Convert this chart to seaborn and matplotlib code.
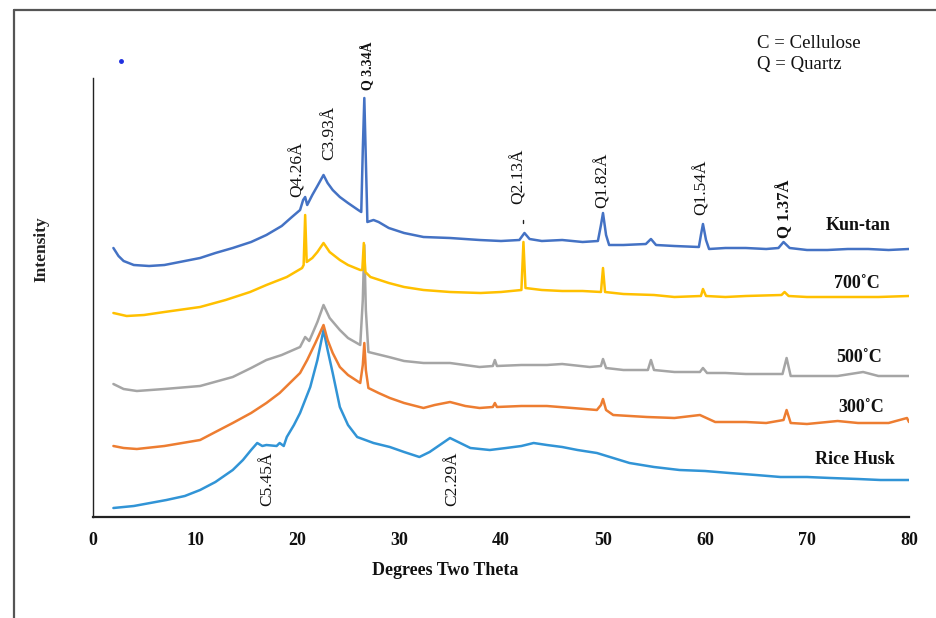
import numpy as np
import pandas as pd
import matplotlib
matplotlib.use("Agg")
import matplotlib.pyplot as plt
import seaborn as sns
from matplotlib.lines import Line2D

# ---------------- data ----------------
kuntan_x = [2.0, 2.5, 3.0, 4.0, 5.5, 7, 9, 10.5, 12, 13.7, 15.5, 17, 18.5, 19.5, 20.3, 20.6, 20.8, 21.0,
            21.5, 22.0, 22.6, 23.0, 23.5, 24.2, 25, 26.0, 26.3, 26.45, 26.6, 26.75, 26.9, 27.5, 28, 29,
            30.5, 32.4, 35, 37.9, 40, 41.8, 42.3, 42.8, 44, 46, 48, 49.5, 49.8, 50.0, 50.3, 50.6, 52,
            54.2, 54.7, 55.2, 57, 59.4, 59.6, 59.8, 60.1, 60.4, 62, 64, 66, 67.2, 67.7, 68.3, 70, 72,
            74, 76, 78, 80]
kuntan_y = [269, 261, 256, 252, 251, 252, 256, 259, 264, 269, 275, 282, 291, 300, 307, 317, 320, 312,
            322, 331, 342, 334, 327, 320, 314, 307, 305, 367, 419, 357, 295, 297, 295, 289,
            284, 280, 279, 277, 276, 277, 284, 278, 276, 277, 275, 276, 292, 304, 282, 272, 272,
            273, 278, 272, 271, 270, 282, 293, 277, 268, 269, 269, 268, 269, 275, 269, 267, 267,
            268, 268, 267, 268]

c700_x = [2.0, 3.3, 5, 7, 10.5, 13, 15.4, 17, 19, 20.5, 20.65, 20.8, 20.95, 21.5, 22.0, 22.6, 23.2,
          24.2, 25, 26.2, 26.4, 26.55, 26.7, 27.2, 29, 30.5, 32.4, 35, 38, 40, 42.0, 42.2, 42.4, 44,
          46, 48, 49.8, 50.0, 50.2, 52, 55, 57, 59.6, 59.8, 60.1, 62, 64, 67.5, 67.8, 68.2, 70, 74,
          77, 80]
c700_y = [204, 201, 202, 205, 210, 217, 225, 232, 240, 249, 252, 302, 255, 259, 265, 274, 265,
          257, 252, 247, 247, 274, 245, 240, 234, 230, 227, 225, 224, 225, 227, 275, 229, 227,
          226, 226, 225, 249, 225, 223, 222, 220, 221, 228, 221, 220, 221, 222, 225, 221, 220, 220,
          220, 221]

c500_x = [2.0, 3, 4.3, 7, 10.5, 13.7, 15.5, 17, 18.5, 20.3, 20.8, 21.2, 22, 22.6, 23.2, 24.2, 25,
          26.2, 26.45, 26.6, 26.75, 27.0, 29, 30.5, 32.4, 35, 37.9, 39.2, 39.4, 39.6, 42, 44.5, 46,
          48.7, 49.8, 50.0, 50.3, 52, 54.4, 54.7, 55.0, 57, 59.5, 59.8, 60.2, 62, 64, 66, 67.6, 68.0,
          68.4, 70, 73, 75.5, 77, 80]
c500_y = [133, 128, 126, 128, 131, 140, 149, 157, 162, 170, 180, 176, 195, 212, 199, 187, 179,
          172, 217, 272, 207, 165, 160, 156, 154, 154, 150, 151, 157, 151, 152, 152, 153,
          150, 151, 158, 149, 147, 147, 157, 147, 145, 145, 149, 144, 144, 143, 143, 143, 159,
          141, 141, 141, 145, 141, 141]

c300_x = [2.0, 3, 4.3, 7, 10.5, 12, 13.7, 15.5, 17, 18.3, 19.3, 20.3, 21.0, 21.8, 22.6, 23.0, 23.5,
          24.2, 25, 26.2, 26.45, 26.6, 26.75, 27.0, 28, 29.1, 30.5, 32.4, 33.5, 35, 36.5, 37.9, 39.2,
          39.4, 39.6, 42, 44.5, 47, 49.4, 49.8, 50.0, 50.3, 51, 54.3, 57, 59.5, 61, 64, 66, 67.7,
          68.0, 68.4, 70, 73, 75, 78, 79.8, 80]
c300_y = [71, 69, 68, 71, 77, 85, 94, 104, 114, 124, 134, 144, 157, 174, 192, 177, 164,
          150, 142, 134, 152, 174, 147, 129, 124, 119, 114, 109, 112, 115, 111, 109, 110,
          114, 110, 111, 111, 109, 107, 112, 118, 107, 102, 100, 99, 102, 95, 95, 94, 97,
          107, 94, 93, 96, 94, 94, 99, 95]

husk_x = [2.0, 4, 7.2, 9, 10.5, 12, 13.7, 14.7, 15.5, 16.1, 16.6, 17, 18, 18.3, 18.7, 19, 19.7,
          20.3, 21.3, 22.0, 22.6, 23.0, 23.5, 24.2, 25, 25.9, 27.5, 29.1, 30.5, 32.0, 33, 34, 35,
          36, 37, 38.9, 40.5, 42, 43.2, 44.5, 46, 47.5, 49.4, 51, 52.6, 55, 57.5, 60, 62.4, 65,
          67.4, 70, 72.3, 75, 77.2, 80]
husk_y = [9, 11, 17, 21, 27, 35, 47, 57, 67, 74, 71, 72, 71, 74, 71, 80, 92,
          104, 130, 157, 187, 167, 144, 110, 92, 80, 74, 70, 65, 60, 65, 72, 79,
          74, 69, 67, 69, 71, 74, 72, 70, 67, 64, 59, 54, 50, 47, 46, 44, 42,
          40, 40, 39, 38, 37, 37]

samples = ["Rice Husk", "300˚C", "500˚C", "700˚C", "Kun-tan"]
x_ticks = [0, 10, 20, 30, 40, 50, 60, 70, 80]

series = {
    "Rice Husk": (husk_x, husk_y),
    "300˚C": (c300_x, c300_y),
    "500˚C": (c500_x, c500_y),
    "700˚C": (c700_x, c700_y),
    "Kun-tan": (kuntan_x, kuntan_y),
}
df = pd.concat(
    [pd.DataFrame({"two_theta": xs, "intensity": ys, "sample": name})
     for name, (xs, ys) in series.items()],
    ignore_index=True,
)

palette = {
    "Rice Husk": "#3194d6",
    "300˚C": "#ed7d31",
    "500˚C": "#a5a5a5",
    "700˚C": "#ffc000",
    "Kun-tan": "#4472c4",
}

# ---------------- figure ----------------
sns.set_theme(style="white")
plt.rcParams["font.family"] = ["Liberation Serif", "DejaVu Serif"]

W, H = 937, 618
fig = plt.figure(figsize=(W / 100, H / 100), dpi=100)
fig.patch.set_facecolor("white")
ax = fig.add_axes([93 / W, 1 - 517 / H, 816 / W, 439 / H])
ax.set_facecolor("white")

sns.lineplot(data=df, x="two_theta", y="intensity", hue="sample", hue_order=samples,
             palette=palette, legend=False, estimator=None, sort=False, lw=1.8, ax=ax)

ax.set_xlim(0, 80)
ax.set_ylim(0, 439)
ax.set_xticks(x_ticks)
ax.set_xticklabels([str(t) for t in x_ticks], fontsize=13, fontweight="bold")
ax.set_yticks([])
ax.tick_params(axis="x", length=0, pad=11, colors="#111111")
ax.set_xlabel("")
ax.set_ylabel("")
for s in ["top", "right"]:
    ax.spines[s].set_visible(False)
ax.spines["left"].set_color("#222222")
ax.spines["left"].set_linewidth(1.0)
ax.spines["bottom"].set_color("#222222")
ax.spines["bottom"].set_linewidth(1.6)

ax.text(0.431, -0.121, "Degrees Two Theta", transform=ax.transAxes, ha="center", va="center",
        fontsize=13, fontweight="bold", color="#111111")
ax.text(-0.0637, 0.61, "Intensity", transform=ax.transAxes, ha="center", va="center",
        rotation=90, fontsize=12.5, fontweight="bold", color="#222222")

# peak annotations (rotated)
above = [("Q4.26Å", 20.1, 320, "normal", 12.5), ("C3.93Å", 23.2, 357, "normal", 12.5),
         ("Q 3.34Å", 27.0, 427, "bold", 10), ("Q2.13Å", 41.7, 313, "normal", 12.5),
         ("Q1.82Å", 50.0, 309, "normal", 12.5), ("Q1.54Å", 59.7, 302, "normal", 12.5),
         ("Q 1.37Å", 67.8, 279, "bold", 12)]
for txt, xx, yy, wt, fs in above:
    ax.text(xx, yy, txt, rotation=90, ha="center", va="bottom", fontsize=fs,
            fontweight=wt, color="#111111", clip_on=False)
below = [("C5.45Å", 17.1, 65), ("C2.29Å", 35.2, 65)]
for txt, xx, yy in below:
    ax.text(xx, yy, txt, rotation=90, ha="center", va="top", fontsize=12.5,
            color="#111111", clip_on=False)

# small dash over the Q2.13 peak
ax.plot([42.2, 42.2], [294, 297], color="#222222", lw=1.0, clip_on=False)

# sample names
names = [("Kun-tan", 75.0, 291), ("700˚C", 74.9, 233), ("500˚C", 75.1, 160),
         ("300˚C", 75.3, 110), ("Rice Husk", 74.7, 57)]
for txt, xx, yy in names:
    ax.text(xx, yy, txt, ha="center", va="center", fontsize=13, fontweight="bold",
            color="#111111")

# key
ax.text(65.1, 473, "C = Cellulose", ha="left", va="center", fontsize=13.5, color="#111111",
        clip_on=False)
ax.text(65.1, 452, "Q = Quartz", ha="left", va="center", fontsize=13.5, color="#111111",
        clip_on=False)

# frame lines (top and left only) and stray dot
fig.add_artist(Line2D([14 / W, 1.0], [1 - 10 / H, 1 - 10 / H], transform=fig.transFigure,
                      color="#555555", lw=1.6))
fig.add_artist(Line2D([14 / W, 14 / W], [0.0, 1 - 10 / H], transform=fig.transFigure,
                      color="#555555", lw=1.6))
fig.add_artist(Line2D([121 / W], [1 - 61 / H], transform=fig.transFigure, marker="o",
                      markersize=2.5, color="#1f2fe0", lw=0))

fig.savefig("out.png", dpi=100)
